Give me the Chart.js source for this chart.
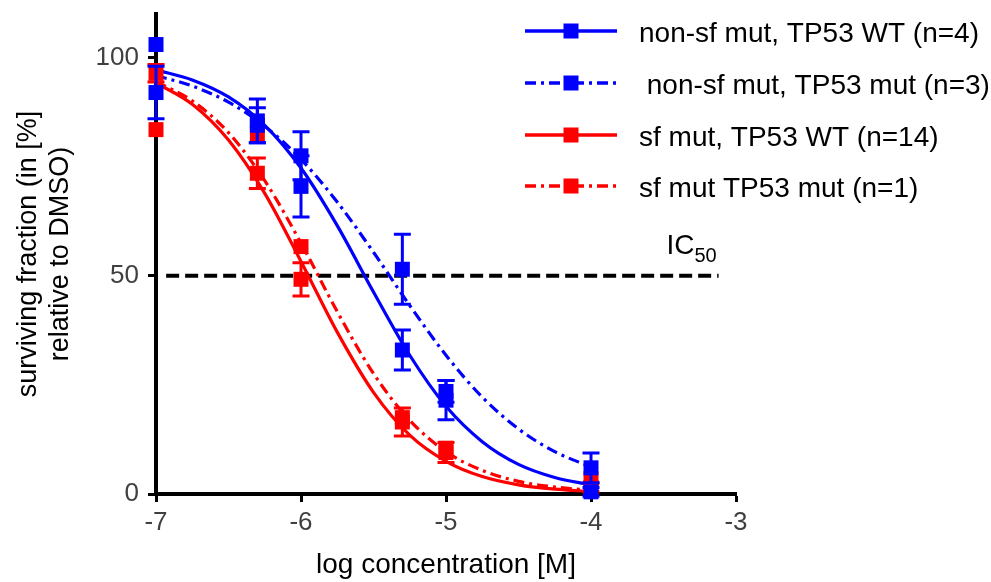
<!DOCTYPE html>
<html>
<head>
<meta charset="utf-8">
<script src="https://cdn.jsdelivr.net/npm/chart.js@4/dist/chart.umd.min.js"></script>
<style>
html,body{margin:0;padding:0;background:#ffffff;}
#wrap{width:991px;height:582px;position:relative;}
</style>
</head>
<body>
<div id="wrap"><canvas id="c" width="991" height="582"></canvas></div>
<script>
// ---- data ----
const concentrations = [-7, -6.301, -6, -5.301, -5, -4];   // log [M]
const xTickValues = [-7, -6, -5, -4, -3];
const yTickValues = [0, 50, 100];

const seriesLabels = [
  'non-sf mut, TP53 WT (n=4)',
  ' non-sf mut, TP53 mut (n=3)',
  'sf mut, TP53 WT (n=14)',
  'sf mut TP53 mut (n=1)'
];

// measured means
const blueWT   = [103.0, 85.5, 77.5, 33.0, 21.5, 0.5];
const blueMut  = [92.0, 84.5, 70.5, 51.5, 23.5, 6.0];
const redWT    = [96.4, 73.5, 49.2, 16.5, 9.5, 1.5];
const redMut   = [83.5, 82.5, 56.7, 17.5, 10.5, 3.5];

// error bars (+/-)
const blueWTErr  = [0, 5.0, 5.5, 4.6, 4.5, 1.0];
const blueMutErr = [6.0, 4.0, 7.0, 8.0, 2.5, 3.4];
const redWTErr   = [2.0, 3.5, 3.8, 3.2, 2.3, 1.0];
const redMutErr  = [0, 0, 0, 0, 0, 0];

// fitted curves
const curveX      = [-7, -6.75, -6.5, -6.25, -6, -5.75, -5.5, -5.25, -5, -4.75, -4.5, -4.25, -4];
const blueWTFit   = [97.2, 94.9, 91.0, 84.5, 74.7, 61.5, 46.3, 31.8, 20.1, 12.0, 6.8, 3.8, 2.1];
const blueMutFit  = [95.9, 93.5, 89.8, 84.3, 76.7, 66.9, 55.4, 43.2, 31.8, 22.2, 14.9, 9.7, 6.2];
const redWTFit    = [94.2, 89.3, 81.1, 68.9, 53.3, 37.1, 23.3, 13.5, 7.5, 4.0, 2.1, 1.1, 0.6];
const redMutFit   = [94.5, 90.1, 82.8, 71.8, 57.5, 41.8, 27.6, 16.9, 9.7, 5.4, 2.9, 1.6, 0.85];

// IC50 reference line
const ic50X = [-6.93, -3.12];
const ic50Y = [50, 50];

// ---- styling ----
const FONT = '"Liberation Sans", Arial, Helvetica, sans-serif';
const BLUE = '#0000ff';
const RED = '#ff0000';
const DASHDOT = [11, 5, 3, 5];

const toPts = (xs, ys) => xs.map((x, i) => ({x: x, y: ys[i]}));

function pointsDataset(label, values, errs, color, dash, order) {
  return {
    label: label,
    data: toPts(concentrations, values),
    errors: errs,
    legendDash: dash,
    showLine: false,
    pointStyle: 'rect',
    pointRadius: 10.6,
    pointHoverRadius: 10.6,
    pointBorderWidth: 0,
    backgroundColor: color,
    borderColor: color,
    clip: false,
    order: order
  };
}
function curveDataset(values, color, dash, order) {
  return {
    label: '_curve',
    data: toPts(curveX, values),
    showLine: true,
    pointRadius: 0,
    borderWidth: 3.2,
    borderColor: color,
    backgroundColor: color,
    borderDash: dash,
    cubicInterpolationMode: 'monotone',
    fill: false,
    clip: false,
    order: order
  };
}

const datasets = [
  pointsDataset(seriesLabels[0], blueWT, blueWTErr, BLUE, [], 0),
  pointsDataset(seriesLabels[1], blueMut, blueMutErr, BLUE, DASHDOT, 1),
  pointsDataset(seriesLabels[2], redWT, redWTErr, RED, [], 2),
  pointsDataset(seriesLabels[3], redMut, redMutErr, RED, DASHDOT, 3),
  curveDataset(blueWTFit, BLUE, [], 4),
  curveDataset(blueMutFit, BLUE, DASHDOT, 5),
  curveDataset(redWTFit, RED, [], 6),
  curveDataset(redMutFit, RED, DASHDOT, 7),
  {
    label: '_ic50',
    data: toPts(ic50X, ic50Y),
    showLine: true,
    pointRadius: 0,
    borderWidth: 4,
    borderColor: '#000000',
    borderDash: [13, 6],
    fill: false,
    order: 8
  }
];

// ---- plugins ----
const errorBars = {
  id: 'errorBars',
  beforeDatasetDraw(chart, args) {
    const ds = chart.data.datasets[args.index];
    if (!ds.errors) return;
    const ctx = chart.ctx, xs = chart.scales.x, ys = chart.scales.y;
    ctx.save();
    ctx.strokeStyle = ds.backgroundColor;
    ctx.lineWidth = 3;
    ctx.setLineDash([]);
    ds.data.forEach((p, i) => {
      const e = ds.errors[i];
      if (!e) return;
      const px = xs.getPixelForValue(p.x);
      const yTop = ys.getPixelForValue(p.y + e);
      const yBot = ys.getPixelForValue(p.y - e);
      ctx.beginPath();
      ctx.moveTo(px, yTop); ctx.lineTo(px, yBot);
      ctx.moveTo(px - 8.5, yTop); ctx.lineTo(px + 8.5, yTop);
      ctx.moveTo(px - 8.5, yBot); ctx.lineTo(px + 8.5, yBot);
      ctx.stroke();
    });
    ctx.restore();
  }
};

const customLegend = {
  id: 'customLegend',
  afterDraw(chart) {
    const ctx = chart.ctx;
    const rows = [31, 83, 135, 186];
    ctx.save();
    chart.data.datasets.filter(d => d.errors).forEach((ds, i) => {
      const y = rows[i];
      ctx.strokeStyle = ds.backgroundColor;
      ctx.lineWidth = 3.5;
      ctx.setLineDash(ds.legendDash);
      ctx.beginPath();
      ctx.moveTo(525, y); ctx.lineTo(617, y);
      ctx.stroke();
      ctx.setLineDash([]);
      ctx.fillStyle = ds.backgroundColor;
      ctx.fillRect(563.5, y - 7.5, 15, 15);
      ctx.fillStyle = '#000000';
      ctx.font = '28px ' + FONT;
      ctx.textAlign = 'left';
      ctx.textBaseline = 'alphabetic';
      ctx.fillText(ds.label, 639, y + 11);
    });
    // IC50 label
    const xs = chart.scales.x, ys = chart.scales.y;
    const lx = xs.getPixelForValue(-3.48);
    const ly = ys.getPixelForValue(55);
    ctx.fillStyle = '#000000';
    ctx.font = '28px ' + FONT;
    ctx.fillText('IC', lx, ly);
    const w = ctx.measureText('IC').width;
    ctx.font = '20px ' + FONT;
    ctx.fillText('50', lx + w, ly + 8);
    ctx.restore();
  }
};

new Chart(document.getElementById('c'), {
  type: 'scatter',
  data: { datasets: datasets },
  options: {
    responsive: false,
    devicePixelRatio: 1,
    animation: false,
    events: [],
    layout: { padding: { top: 14, right: 255, left: 0, bottom: 0 } },
    plugins: { legend: { display: false }, tooltip: { enabled: false } },
    scales: {
      x: {
        type: 'linear',
        min: -7, max: -3,
        afterBuildTicks: s => { s.ticks = xTickValues.map(v => ({ value: v })); },
        afterFit: s => { s.height = 88; s.paddingLeft = 0; s.paddingRight = 0; },
        grid: { display: true, drawOnChartArea: false, drawTicks: true, tickLength: 8, tickWidth: 3, tickColor: '#000000' },
        border: { display: true, color: '#000000', width: 4 },
        ticks: { color: '#404040', font: { size: 26, family: FONT }, padding: 5, maxRotation: 0, autoSkip: false, callback: v => String(v) },
        title: { display: true, text: 'log concentration [M]', color: '#000000', font: { size: 28, family: FONT }, padding: { top: 0, bottom: 0 } }
      },
      y: {
        type: 'linear',
        min: 0, max: 110,
        afterBuildTicks: s => { s.ticks = yTickValues.map(v => ({ value: v })); },
        afterFit: s => { s.width = 156; s.paddingTop = 0; s.paddingBottom = 0; },
        grid: { display: true, drawOnChartArea: false, drawTicks: true, tickLength: 8, tickWidth: 3, tickColor: '#000000' },
        border: { display: true, color: '#000000', width: 4 },
        ticks: { color: '#404040', font: { size: 26, family: FONT, lineHeight: 1 }, padding: 9, callback: v => String(v) },
        title: { display: true, text: ['surviving fraction (in [%]', 'relative to DMSO)'], color: '#000000', font: { size: 27, family: FONT }, padding: { top: 12, bottom: 0 } }
      }
    }
  },
  plugins: [errorBars, customLegend]
});
</script>
</body>
</html>
